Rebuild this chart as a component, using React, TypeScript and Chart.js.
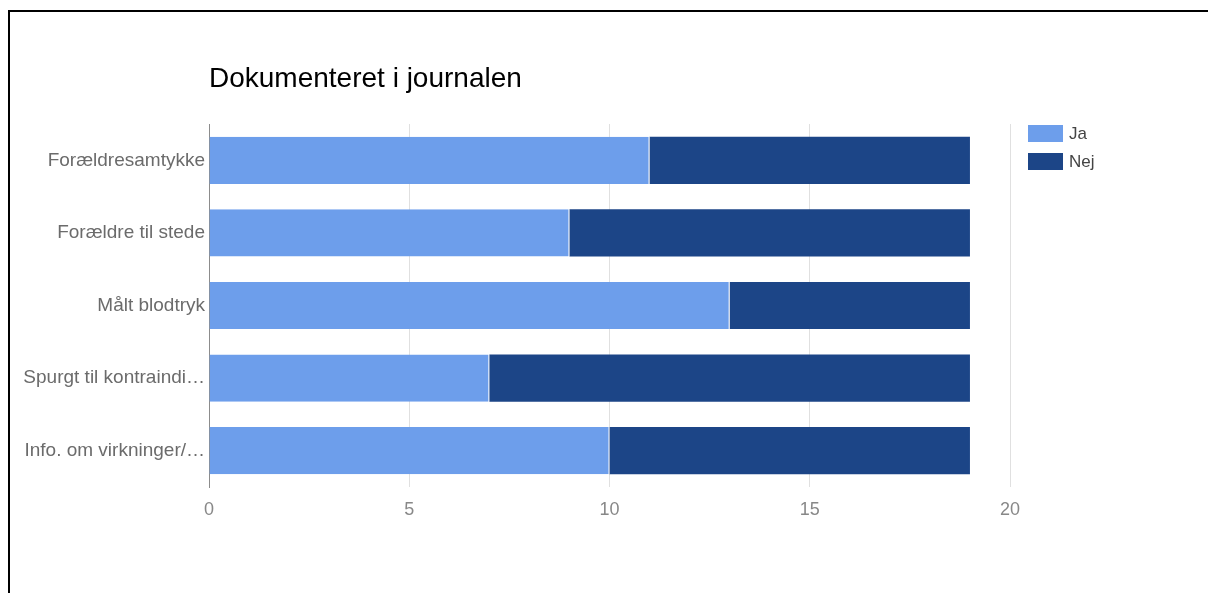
import React, { useEffect, useRef } from 'react';
import { Chart, registerables } from 'chart.js';

Chart.register(...registerables);

const TITLE = 'Dokumenteret i journalen';
const categories = [
  'Forældresamtykke',
  'Forældre til stede',
  'Målt blodtryk',
  'Spurgt til kontraindi…',
  'Info. om virkninger/…',
];
const seriesNames = ['Ja', 'Nej'];
const jaValues = [11, 9, 13, 7, 10];
const nejValues = [8, 10, 6, 12, 9];
const xMin = 0;
const xMax = 20;
const xStep = 5;

const FONT = "'Liberation Sans', Arial, sans-serif";
const JA_COLOR = '#6d9eeb';
const NEJ_COLOR = '#1c4587';

const sideLegend = {
  id: 'sideLegend',
  afterDraw(chart: any) {
    const { ctx, chartArea } = chart;
    ctx.save();
    chart.data.datasets.forEach((ds: any, i: number) => {
      const x = chartArea.right + 18;
      const y = chartArea.top + 1 + i * 28;
      ctx.fillStyle = ds.backgroundColor;
      ctx.fillRect(x, y, 35, 17);
      ctx.fillStyle = '#444';
      ctx.font = `17px ${FONT}`;
      ctx.textBaseline = 'middle';
      ctx.textAlign = 'left';
      ctx.fillText(ds.label, x + 41, y + 9);
    });
    ctx.restore();
  },
};

export default function App() {
  const canvasRef = useRef<HTMLCanvasElement | null>(null);

  useEffect(() => {
    if (!canvasRef.current) return;
    const chart = new Chart(canvasRef.current, {
      type: 'bar',
      data: {
        labels: categories,
        datasets: [
          {
            label: seriesNames[0],
            data: jaValues,
            backgroundColor: JA_COLOR,
            borderColor: '#ffffff',
            borderWidth: { top: 0, right: 1, bottom: 0, left: 0 },
            barPercentage: 0.65,
            categoryPercentage: 1,
          },
          {
            label: seriesNames[1],
            data: nejValues,
            backgroundColor: NEJ_COLOR,
            borderWidth: 0,
            barPercentage: 0.65,
            categoryPercentage: 1,
          },
        ],
      },
      options: {
        indexAxis: 'y',
        responsive: false,
        animation: false,
        layout: { padding: { top: 0, right: 198, bottom: 66, left: 0 } },
        plugins: {
          legend: { display: false },
          tooltip: { enabled: false },
          title: {
            display: true,
            text: TITLE,
            align: 'start',
            fullSize: false,
            color: '#000',
            font: { family: FONT, size: 28, weight: 'normal' },
            padding: { top: 62, bottom: 28.4 },
          },
        },
        scales: {
          x: {
            type: 'linear',
            stacked: true,
            min: xMin,
            max: xMax,
            ticks: {
              stepSize: xStep,
              color: '#888',
              font: { family: FONT, size: 18 },
              padding: 12,
            },
            grid: { color: '#e0e0e0', drawTicks: false, lineWidth: 1 },
            border: { display: false },
            afterFit: (scale: any) => {
              scale.height = 40;
            },
          },
          y: {
            stacked: true,
            ticks: {
              color: '#6b6b6b',
              font: { family: FONT, size: 19 },
              padding: 4,
              autoSkip: false,
            },
            grid: { display: false, drawTicks: false },
            border: { display: true, color: '#8c8c8c', width: 1 },
            afterFit: (scale: any) => {
              scale.width = 209;
            },
          },
        },
      },
      plugins: [sideLegend],
    });
    return () => chart.destroy();
  }, []);

  return (
    <div
      style={{
        position: 'fixed',
        left: 0,
        top: 0,
        width: 1208,
        height: 593,
        background: '#fff',
        overflow: 'hidden',
      }}
    >
      <div
        style={{
          position: 'absolute',
          left: 8,
          top: 10,
          width: 1400,
          height: 800,
          borderTop: '2px solid #000',
          borderLeft: '2px solid #000',
        }}
      />
      <canvas
        ref={canvasRef}
        width={1208}
        height={593}
        style={{ position: 'absolute', left: 0, top: 0, display: 'block' }}
      />
    </div>
  );
}
